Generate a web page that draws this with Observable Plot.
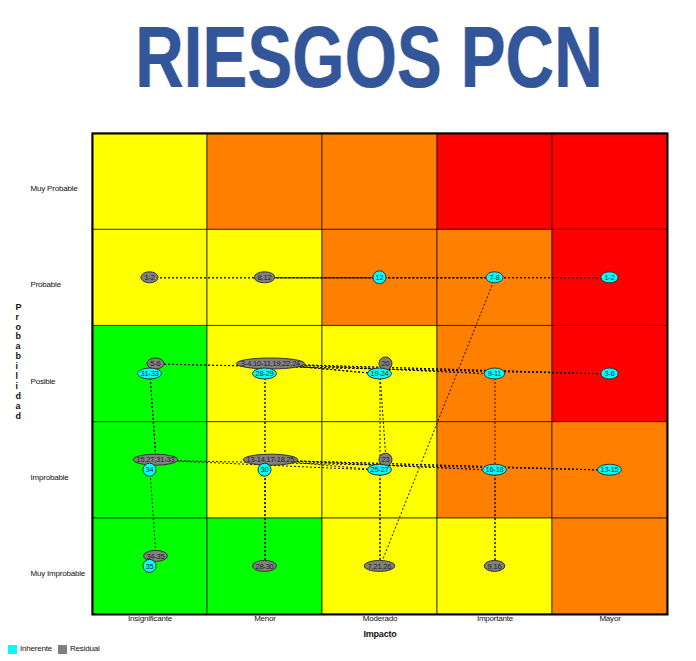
<!DOCTYPE html>
<html>
<head>
<meta charset="utf-8">
<script src="https://cdn.jsdelivr.net/npm/d3@7"></script>
<script src="https://cdn.jsdelivr.net/npm/@observablehq/plot@0.6"></script>
<style>
  body { margin: 0; background: #fff; }
  #wrap { position: relative; width: 696px; height: 661px; background: #fff; overflow: hidden; font-family: "Liberation Sans Narrow", "Liberation Sans", Arial, sans-serif; }
  #titulo { position: absolute; top: 13px; left: 21px; width: 696px; text-align: center; white-space: nowrap;
            font: bold 88px/87px "Liberation Sans", Arial, sans-serif; color: #33559a;
            transform: scaleX(0.765); transform-origin: center;
            text-shadow: -1px 0 0 rgba(170,70,80,0.45), 1px 0 0 rgba(80,160,230,0.6); }
  #chart { position: absolute; top: 108px; left: 0; }
  #leyenda { position: absolute; top: 644px; left: 8px; font-size: 8px; letter-spacing: -0.2px; line-height: 10px; color: #111; display: flex; align-items: center; }
  #leyenda span.sw { display: inline-block; width: 9px; height: 9px; margin-right: 3px; }
  #leyenda span.lb { margin-right: 6px; }
</style>
</head>
<body>
<div id="wrap">
  <div id="titulo">RIESGOS PCN</div>
  <div id="chart"></div>
  <div id="leyenda"></div>
</div>
<script>
// ---- Data ----
const impacto = ["Insignificante", "Menor", "Moderado", "Importante", "Mayor"];
const probabilidad = ["Muy Improbable", "Improbable", "Posible", "Probable", "Muy Probable"];
const nivelesRiesgo = ["Bajo", "Moderado", "Alto", "Extremo"];

const nivelMuyImprobable = ["Bajo", "Bajo", "Moderado", "Moderado", "Alto"];
const nivelImprobable    = ["Bajo", "Moderado", "Moderado", "Alto", "Alto"];
const nivelPosible       = ["Bajo", "Moderado", "Moderado", "Alto", "Extremo"];
const nivelProbable      = ["Moderado", "Moderado", "Alto", "Alto", "Extremo"];
const nivelMuyProbable   = ["Moderado", "Alto", "Alto", "Extremo", "Extremo"];

const series = ["Inherente", "Residual"];

const inherenteEtiquetas = ["1-2", "12", "7-8", "31-33", "28-29", "19-24", "9-11", "3-6", "34", "30", "25-27", "16-18", "13-15", "35"];
const inherenteImpacto = ["Mayor", "Moderado", "Importante", "Insignificante", "Menor", "Moderado", "Importante", "Mayor", "Insignificante", "Menor", "Moderado", "Importante", "Mayor", "Insignificante"];
const inherenteProbabilidad = ["Probable", "Probable", "Probable", "Posible", "Posible", "Posible", "Posible", "Posible", "Improbable", "Improbable", "Improbable", "Improbable", "Improbable", "Muy Improbable"];

const residualEtiquetas = ["1-2", "8,12", "5-6", "3-4,10-11,19,22,24", "20", "15,27,31-33", "13-14,17-18,25", "23", "34-35", "28-30", "7,21,26", "9,16"];
const residualImpacto = ["Insignificante", "Menor", "Insignificante", "Menor", "Moderado", "Insignificante", "Menor", "Moderado", "Insignificante", "Menor", "Moderado", "Importante"];
const residualProbabilidad = ["Probable", "Probable", "Posible", "Posible", "Posible", "Improbable", "Improbable", "Improbable", "Muy Improbable", "Muy Improbable", "Muy Improbable", "Muy Improbable"];

// ---- Derived tables ----
const coloresNivel = ["#00ff00", "#ffff00", "#ff8000", "#ff0000"];
const coloresSerie = ["#00ffff", "#808080"];

const matriz = [nivelMuyImprobable, nivelImprobable, nivelPosible, nivelProbable, nivelMuyProbable];
const celdas = matriz.flatMap((fila, j) => fila.map((nivel, i) => ({i, j, nivel})));

function expandir(etiqueta) {
  return etiqueta.split(",").flatMap(p => {
    const [a, b] = p.split("-").map(Number);
    return b ? d3.range(a, b + 1) : [a];
  });
}

const clavesInh = new Set(inherenteEtiquetas.map((_, k) => inherenteImpacto[k] + "|" + inherenteProbabilidad[k]));
const inherentes = inherenteEtiquetas.map((label, k) => ({
  label,
  x: impacto.indexOf(inherenteImpacto[k]) + 0.5,
  y: probabilidad.indexOf(inherenteProbabilidad[k]) + 0.5,
  ids: expandir(label)
}));
const residuales = residualEtiquetas.map((label, k) => {
  const compartida = clavesInh.has(residualImpacto[k] + "|" + residualProbabilidad[k]);
  return {
    label,
    x: impacto.indexOf(residualImpacto[k]) + 0.5 + (compartida ? 0.052 : 0),
    y: probabilidad.indexOf(residualProbabilidad[k]) + 0.5 + (compartida ? 0.104 : 0),
    ids: expandir(label)
  };
});
const enlaces = d3.range(1, 36).map(id => {
  const a = inherentes.find(b => b.ids.includes(id));
  const r = residuales.find(b => b.ids.includes(id));
  return {id, x1: a.x, y1: a.y, x2: r.x, y2: r.y};
});

// bubble mark (ellipses with clipped labels), positioned through Plot's scales
const burbujas = (lista, relleno, pref) => (index, scales) => {
  const g = d3.create("svg:g");
  lista.forEach((d, k) => {
    const cx = scales.x(d.x), cy = scales.y(d.y);
    const n = d.label.length;
    const rx = n <= 2 ? 6.5 : n * 1.7 + 3.5;
    const ry = n <= 2 ? 6.5 : 5.5;
    const id = `${pref}-${k}`;
    g.append("clipPath").attr("id", id).append("ellipse")
      .attr("cx", cx).attr("cy", cy).attr("rx", Math.max(rx - 1.5, 5)).attr("ry", ry);
    g.append("ellipse")
      .attr("cx", cx).attr("cy", cy).attr("rx", rx).attr("ry", ry)
      .attr("fill", relleno).attr("stroke", "#333").attr("stroke-width", 1);
    g.append("text")
      .attr("x", cx).attr("y", cy).attr("dy", "0.35em")
      .attr("text-anchor", "middle").attr("font-size", 7.5).attr("fill", "#222")
      .attr("clip-path", `url(#${id})`)
      .text(d.label);
  });
  return g.node();
};

const chart = Plot.plot({
  width: 696,
  height: 532,
  marginLeft: 92,
  marginRight: 29,
  marginTop: 25,
  marginBottom: 26,
  style: {fontFamily: "'Liberation Sans Narrow', 'Liberation Sans', Arial, sans-serif", fontSize: "8px", letterSpacing: "-0.2px", background: "white", color: "#111"},
  x: {domain: [0, 5], axis: null},
  y: {domain: [0, 5], axis: null},
  color: {domain: nivelesRiesgo, range: coloresNivel},
  marks: [
    Plot.rect(celdas, {x1: d => d.i, x2: d => d.i + 1, y1: d => d.j, y2: d => d.j + 1, fill: "nivel", stroke: "#000", strokeOpacity: 0.65, strokeWidth: 1}),
    Plot.frame({stroke: "#000", strokeWidth: 2}),
    Plot.link(enlaces, {x1: "x1", y1: "y1", x2: "x2", y2: "y2", stroke: "#111", strokeWidth: 1, strokeDasharray: "2,2"}),
    burbujas(residuales, coloresSerie[1], "clip-res"),
    burbujas(inherentes, coloresSerie[0], "clip-inh"),
    Plot.text(probabilidad, {y: (d, i) => i + 0.5, text: d => d, frameAnchor: "left", textAnchor: "start", dx: -62, dy: 7, fontSize: 8}),
    Plot.text(impacto, {x: (d, i) => i + 0.5, text: d => d, frameAnchor: "bottom", lineAnchor: "top", dy: 1, fontSize: 8}),
    Plot.text(["Impacto"], {text: d => d, frameAnchor: "bottom", lineAnchor: "top", dy: 16, fontSize: 9, fontWeight: "bold"}),
    Plot.text(["Probabilidad"], {text: d => d.split("").join("\n"), frameAnchor: "left", dx: -77, dy: -13, lineHeight: 1.1, fontSize: 9, fontWeight: "bold"})
  ]
});
document.getElementById("chart").appendChild(chart);

// legend
const leyenda = document.getElementById("leyenda");
series.forEach((s, k) => {
  const sw = document.createElement("span");
  sw.className = "sw";
  sw.style.background = coloresSerie[k];
  const lb = document.createElement("span");
  lb.className = "lb";
  lb.textContent = s;
  leyenda.appendChild(sw);
  leyenda.appendChild(lb);
});
</script>
</body>
</html>
